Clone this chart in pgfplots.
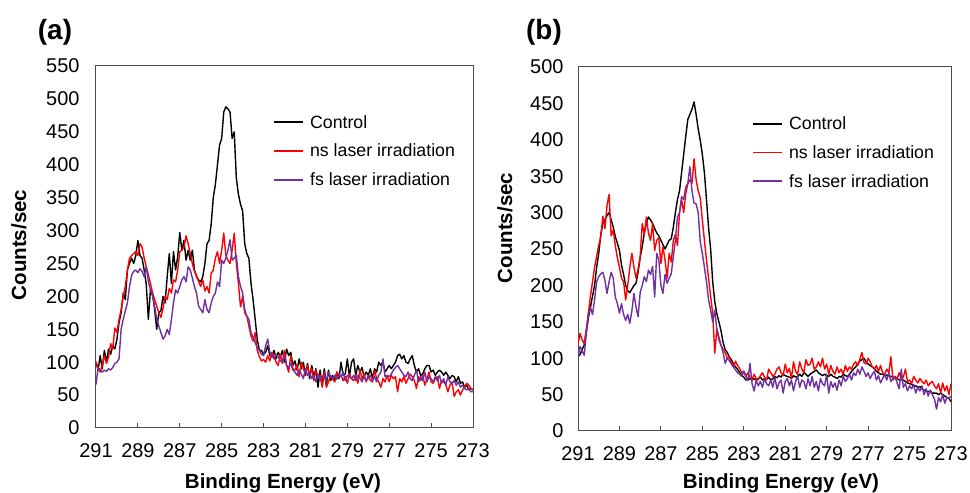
\documentclass[border=0pt]{standalone}
\usepackage{fontspec}
\setmainfont{Liberation Sans}
\usepackage{pgfplots}
\usepackage{pgfplotstable}
\pgfplotsset{compat=1.18}
\definecolor{nsred}{RGB}{255,0,0}
\definecolor{fspurple}{RGB}{112,48,160}

% columns: binding energy, control, ns laser, fs laser
\pgfplotstableread{
E C NS FS
291.0 100 101 66
290.9 88 90 92
290.8 110 85 88
290.7 90 95 85
290.6 118 110 88
290.5 100 98 86
290.4 120 108 90
290.3 112 128 88
290.2 125 120 92
290.1 120 152 98
290.0 135 145 100
289.9 160 165 105
289.8 175 180 150
289.7 205 200 165
289.6 195 215 178
289.5 240 240 190
289.4 250 258 215
289.3 258 262 232
289.2 250 265 238
289.1 262 268 240
289.0 285 262 236
288.9 262 280 242
288.8 258 275 238
288.7 240 258 230
288.6 218 245 245
288.5 165 232 222
288.4 210 220 210
288.3 205 205 200
288.2 180 195 185
288.1 150 185 165
288.0 175 175 155
287.9 178 168 145
287.8 200 182 135
287.7 190 200 140
287.6 230 195 150
287.5 265 212 142
287.4 220 205 165
287.3 268 225 190
287.2 240 222 210
287.1 260 240 205
287.0 297 268 215
286.9 270 270 225
286.8 285 275 230
286.7 255 292 222
286.6 270 280 245
286.5 255 265 240
286.4 270 250 228
286.3 240 238 215
286.2 230 232 205
286.1 225 222 185
286.0 222 215 180
285.9 230 225 175
285.8 250 208 195
285.7 280 215 180
285.6 285 205 175
285.5 310 235 190
285.4 350 240 200
285.3 370 258 205
285.2 400 268 222
285.1 430 250 215
285.0 440 270 255
284.9 480 296 250
284.8 488 262 258
284.7 485 255 270
284.6 480 250 286
284.5 440 270 255
284.4 450 296 258
284.3 380 250 262
284.2 355 220 230
284.1 340 184 215
284.0 330 200 205
283.9 280 175 180
283.8 265 170 170
283.7 258 155 165
283.6 220 140 145
283.5 195 132 138
283.4 165 145 130
283.3 135 118 122
283.2 118 108 118
283.1 118 102 112
283.0 112 104 110
282.9 115 100 125
282.8 125 110 135
282.7 110 102 115
282.6 108 115 110
282.5 118 108 105
282.4 105 100 112
282.3 115 95 108
282.2 108 112 102
282.1 118 98 100
282.0 100 118 110
281.9 120 95 95
281.8 110 85 92
281.7 115 110 98
281.6 95 90 88
281.5 102 88 85
281.4 88 95 80
281.3 105 78 88
281.2 90 100 82
281.1 100 90 75
281.0 80 82 90
280.9 98 95 80
280.8 75 80 85
280.7 95 90 75
280.6 78 72 80
280.5 90 88 70
280.4 62 78 82
280.3 88 80 72
280.2 65 62 78
280.1 90 85 80
280.0 65 62 72
279.9 88 70 85
279.8 72 80 78
279.7 80 74 76
279.6 72 70 80
279.5 85 85 74
279.4 75 78 82
279.3 100 80 78
279.2 80 72 85
279.1 82 78 72
279.0 105 68 80
278.9 78 82 78
278.8 100 75 75
278.7 105 72 80
278.6 80 80 72
278.5 95 68 80
278.4 85 88 76
278.3 92 75 70
278.2 78 82 78
278.1 85 70 72
278.0 80 80 76
277.9 90 72 80
277.8 75 70 72
277.7 90 88 78
277.6 85 75 70
277.5 100 70 80
277.4 95 62 85
277.3 100 75 105
277.2 85 70 78
277.1 90 80 80
277.0 95 70 78
276.9 90 80 82
276.8 95 75 88
276.7 100 78 92
276.6 110 55 95
276.5 112 75 90
276.4 105 70 85
276.3 110 78 80
276.2 100 68 78
276.1 98 75 85
276.0 105 82 75
275.9 110 78 72
275.8 95 72 80
275.7 85 60 88
275.6 90 78 70
275.5 80 72 78
275.4 82 80 72
275.3 90 65 85
275.2 95 75 70
275.1 95 85 78
275.0 85 70 75
274.9 88 68 70
274.8 80 75 78
274.7 85 78 72
274.6 88 60 80
274.5 85 72 68
274.4 80 70 75
274.3 85 66 65
274.2 80 55 78
274.1 75 65 70
274.0 80 70 68
273.9 78 48 72
273.8 70 55 65
273.7 78 58 70
273.6 68 50 62
273.5 70 58 65
273.4 62 62 60
273.3 65 68 58
273.2 58 65 60
273.1 60 60 55
273.0 58 58 55
}\tabA

\pgfplotstableread{
E C NS FS
291.0 102 120 102
290.9 105 134 116
290.8 112 125 110
290.7 118 120 104
290.6 135 140 134
290.5 155 162 160
290.4 170 185 170
290.3 185 205 160
290.2 200 225 180
290.1 225 240 205
290.0 244 255 212
289.9 270 267 216
289.8 285 295 218
289.7 290 278 207
289.6 296 310 189
289.5 300 325 205
289.4 290 268 218
289.3 280 276 210
289.2 267 255 184
289.1 258 238 175
289.0 248 225 162
288.9 228 210 175
288.8 215 205 160
288.7 200 180 152
288.6 193 200 160
288.5 190 225 148
288.4 195 244 165
288.3 200 225 189
288.2 203 210 170
288.1 218 222 157
288.0 238 240 190
287.9 253 285 200
287.8 272 270 212
287.7 285 294 205
287.6 294 272 221
287.5 290 262 215
287.4 285 285 226
287.3 278 248 184
287.2 272 262 244
287.1 268 265 235
287.0 262 230 200
286.9 256 253 189
286.8 250 235 215
286.7 256 210 203
286.6 262 244 210
286.5 264 232 216
286.4 280 262 240
286.3 300 270 262
286.2 318 255 294
286.1 330 300 300
286.0 355 318 322
285.9 380 300 318
285.8 405 326 335
285.7 428 340 340
285.6 435 345 363
285.5 442 340 330
285.4 452 374 313
285.3 435 345 312
285.2 415 330 300
285.1 399 320 260
285.0 380 290 244
284.9 355 262 225
284.8 318 235 205
284.7 280 210 180
284.6 250 185 166
284.5 205 162 150
284.4 178 107 166
284.3 161 140 140
284.2 150 125 129
284.1 138 118 118
284.0 122 112 108
283.9 112 108 93
283.8 108 100 100
283.7 102 102 97
283.6 98 94 92
283.5 92 88 88
283.4 88 96 84
283.3 85 90 80
283.2 80 86 78
283.1 77 80 75
283.0 74 82 82
282.9 70 75 75
282.8 70 80 70
282.7 72 74 93
282.6 70 70 65
282.5 72 78 55
282.4 70 72 70
282.3 72 70 62
282.2 74 76 68
282.1 70 80 60
282.0 72 74 72
281.9 71 70 65
281.8 74 85 62
281.7 70 80 70
281.6 72 75 60
281.5 75 78 74
281.4 73 85 58
281.3 76 88 66
281.2 74 80 70
281.1 78 76 52
281.0 76 92 68
280.9 75 80 72
280.8 74 86 62
280.7 72 72 70
280.6 76 95 55
280.5 74 82 68
280.4 75 78 75
280.3 78 95 60
280.2 75 85 70
280.1 80 80 68
280.0 78 98 58
279.9 75 90 72
279.8 78 92 62
279.7 80 100 75
279.6 82 85 60
279.5 84 88 68
279.4 80 95 55
279.3 78 88 72
279.2 76 100 65
279.1 78 85 62
279.0 76 92 78
278.9 75 78 52
278.8 78 90 68
278.7 75 82 60
278.6 74 78 66
278.5 72 88 56
278.4 75 80 70
278.3 74 85 62
278.2 78 78 75
278.1 76 90 68
278.0 75 82 72
277.9 78 88 78
277.8 82 85 70
277.7 85 92 80
277.6 88 95 76
277.5 92 90 85
277.4 96 98 78
277.3 98 108 88
277.2 100 94 82
277.1 95 92 75
277.0 92 100 80
276.9 90 95 72
276.8 88 88 78
276.7 86 85 82
276.6 82 90 70
276.5 80 82 76
276.4 78 90 66
276.3 78 80 72
276.2 76 78 78
276.1 77 85 70
276.0 76 80 80
275.9 75 102 68
275.8 74 70 72
275.7 72 75 75
275.6 72 72 66
275.5 70 80 58
275.4 70 72 85
275.3 70 74 60
275.2 68 85 65
275.1 66 68 55
275.0 65 70 62
274.9 64 65 58
274.8 62 75 64
274.7 62 70 52
274.6 60 66 60
274.5 61 72 55
274.4 58 68 62
274.3 56 65 50
274.2 55 70 58
274.1 54 62 48
274.0 55 66 56
273.9 52 68 50
273.8 52 62 44
273.7 52 58 30
273.6 50 65 46
273.5 52 52 40
273.4 50 66 50
273.3 48 55 38
273.2 46 62 46
273.1 45 50 45
273.0 40 65 48
}\tabB

\pgfplotsset{
  legend image code/.code={\draw[#1, line width=1.9bp] (0bp,0bp) -- (29bp,0bp);},
  xps/.style={
    scale only axis, anchor=south west,
    x dir=reverse, xmin=273, xmax=291, ymin=0,
    xtick={273,275,...,291},
    axis line style={black!70, line width=1bp},
    tick align=inside, xtick pos=left,
    major tick length=5bp,
    xtick style={black!70, line width=1bp},
    ytick style={draw=none},
    ticklabel style={font=\fontsize{20}{24}\selectfont},
    /pgf/number format/assume math mode=true,
    xticklabel style={yshift=-12bp},
    yticklabel style={xshift=-13bp},
    legend style={draw=none, fill=none, anchor=north west,
      font=\fontsize{17.8}{20}\selectfont, row sep=10.5bp, column sep=4bp,
      inner sep=0pt},
    legend cell align=left,
    every axis plot/.append style={line width=1.4bp, line join=round},
  }
}

\begin{document}
\begin{tikzpicture}
\useasboundingbox (0,0) rectangle (970bp,493bp);

\begin{axis}[xps, at={(96bp,65bp)}, width=377bp, height=362bp,
  ymax=550, ytick={0,50,...,550},
  legend style={at={(rel axis cs:0.4695,0.87)}}]
\addplot[black] table[x=E, y=C] {\tabA};
\addlegendentry{Control}
\addplot[nsred] table[x=E, y=NS] {\tabA};
\addlegendentry{ns laser irradiation}
\addplot[fspurple] table[x=E, y=FS] {\tabA};
\addlegendentry{fs laser irradiation}
\end{axis}

\begin{axis}[xps, at={(578bp,62bp)}, width=373bp, height=364bp,
  ymax=500, ytick={0,50,...,500},
  yticklabel style={xshift=2bp},
  legend style={at={(rel axis cs:0.4665,0.87)}}]
\addplot[black] table[x=E, y=C] {\tabB};
\addlegendentry{Control}
\addplot[nsred] table[x=E, y=NS] {\tabB};
\addlegendentry{ns laser irradiation}
\addplot[fspurple] table[x=E, y=FS] {\tabB};
\addlegendentry{fs laser irradiation}
\end{axis}

\node[font=\bfseries\fontsize{20.6}{24}\selectfont, anchor=base] at (283bp,5bp) {Binding Energy (eV)};
\node[font=\bfseries\fontsize{20.6}{24}\selectfont, anchor=base] at (781bp,5bp) {Binding Energy (eV)};
\node[font=\bfseries\fontsize{20.6}{24}\selectfont, rotate=90] at (19bp,248bp) {Counts/sec};
\node[font=\bfseries\fontsize{20.6}{24}\selectfont, rotate=90] at (505bp,265bp) {Counts/sec};
\node[font=\bfseries\fontsize{28}{32}\selectfont] at (55bp,461bp) {(a)};
\node[font=\bfseries\fontsize{28}{32}\selectfont] at (544bp,461bp) {(b)};
\end{tikzpicture}
\end{document}
